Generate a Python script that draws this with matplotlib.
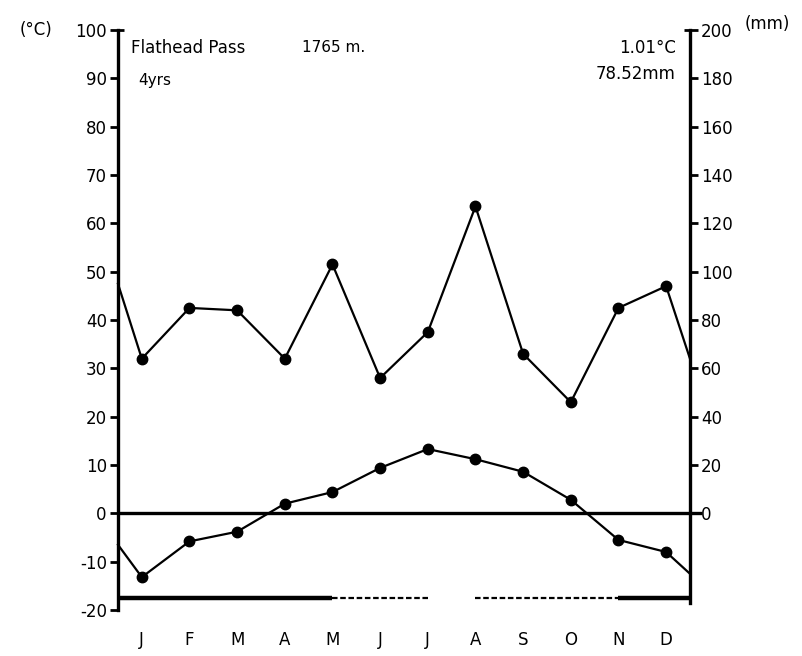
import numpy as np
import matplotlib
matplotlib.use("Agg")
import matplotlib.pyplot as plt

# Flathead Pass 1765 m, 4 Jahre -- Klimadiagramm
months = ["J", "F", "M", "A", "M", "J", "J", "A", "S", "O", "N", "D"]
temp_c = [-13.2, -5.8, -3.8, 2.0, 4.4, 9.4, 13.3, 11.2, 8.6, 2.8, -5.5, -8.0]
precip_mm = [64, 85, 84, 64, 103, 56, 75, 127, 66, 46, 85, 94]
# Werte am linken / rechten Rand (Fortsetzung ueber den Jahreswechsel)
temp_edges = [-6.5, -12.5]
precip_edges = [95, 64]

# Frostperioden in Monaten (Anfang, Ende)
frost_sure = [(0, 4.5), (10.5, 12)]
frost_possible = [(4.5, 6.5), (7.5, 10.5)]

station = "Flathead Pass"
elevation = "1765 m."
years = "4yrs"
mean_temp = "1.01°C"
mean_precip = "78.52mm"

plt.rcParams["font.family"] = ["DejaVu Sans"]
plt.rcParams["font.size"] = 12
plt.rcParams["axes.unicode_minus"] = False

fig = plt.figure(figsize=(8.02, 6.56), dpi=100)
ax = fig.add_axes([0.1471, 0.0701, 0.7132, 0.8842])
ax2 = ax.twinx()

centers = np.arange(12) + 0.5
x_line = np.concatenate([[0], centers, [12]])

lw = 1.6
ax.plot(x_line, [temp_edges[0]] + temp_c + [temp_edges[1]], color="black", lw=lw, clip_on=False)
ax.plot(centers, temp_c, "o", color="black", ms=7.5)

ax2.plot(x_line, [precip_edges[0]] + precip_mm + [precip_edges[1]], color="black", lw=lw, clip_on=False)
ax2.plot(centers, precip_mm, "o", color="black", ms=7.5)

# Nulllinie, leicht ueber die rechte Achse hinaus
ax.plot([0, 12.25], [0, 0], color="black", lw=2.4, clip_on=False, solid_capstyle="butt")

frost_y = -17.6
for a, b in frost_sure:
    ax.plot([a, b], [frost_y, frost_y], color="black", lw=3.2, solid_capstyle="butt")
for a, b in frost_possible:
    ax.plot([a, b], [frost_y, frost_y], color="black", lw=1.6, ls=(0, (2.5, 1.2)))

ax.set_xlim(0, 12)
ax.set_ylim(-20, 100)
ax2.set_ylim(-40, 200)

for a in (ax, ax2):
    a.spines["top"].set_visible(False)
    a.spines["bottom"].set_visible(False)
ax.spines["right"].set_visible(False)
ax2.spines["left"].set_visible(False)
ax.spines["left"].set_linewidth(2.4)
ax2.spines["right"].set_linewidth(2.4)
ax.spines["left"].set_bounds(-20, 100)
ax2.spines["right"].set_bounds(-37, 200)

# kleine Haken oben an den Achsen
ax.plot([0, 0.12], [100, 100], color="black", lw=2, clip_on=False, solid_capstyle="butt")
ax.plot([11.88, 12], [100, 100], color="black", lw=2, clip_on=False, solid_capstyle="butt")

ax.set_yticks(np.arange(-20, 101, 10))
ax2.set_yticks(np.arange(0, 201, 20))
ax.tick_params(axis="y", length=6, width=2, pad=2, labelsize=12)
ax2.tick_params(axis="y", length=6, width=2, pad=2, labelsize=12)

ax.set_xticks(centers)
ax.set_xticklabels(months, fontsize=12)
ax.tick_params(axis="x", length=0, pad=15)

ax.text(-0.115, 1.0, "(°C)", transform=ax.transAxes, ha="right", va="center", fontsize=12)
ax2.text(1.095, 1.01, "(mm)", transform=ax2.transAxes, ha="left", va="center", fontsize=12)

ax.text(0.022, 0.985, station, transform=ax.transAxes, ha="left", va="top", fontsize=12)
ax.text(0.322, 0.983, elevation, transform=ax.transAxes, ha="left", va="top", fontsize=11)
ax.text(0.035, 0.925, years, transform=ax.transAxes, ha="left", va="top", fontsize=11)
ax.text(0.975, 0.985, mean_temp, transform=ax.transAxes, ha="right", va="top", fontsize=12)
ax.text(0.975, 0.94, mean_precip, transform=ax.transAxes, ha="right", va="top", fontsize=12)

fig.savefig("out.png", dpi=100)
